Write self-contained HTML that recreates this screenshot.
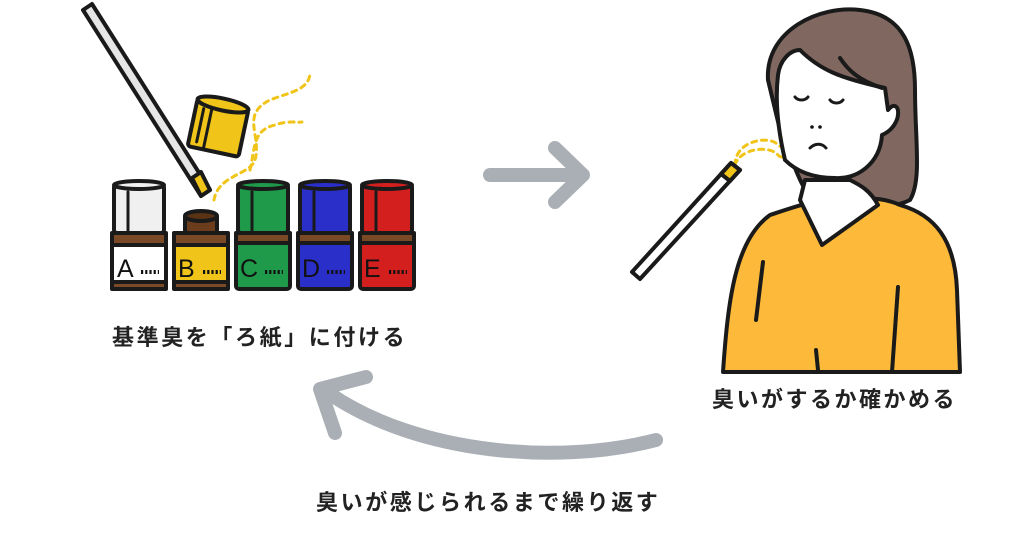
<!DOCTYPE html>
<html><head><meta charset="utf-8"><style>
html,body{margin:0;padding:0;background:#fff;}
svg{display:block}
text{font-family:"Liberation Sans","Noto Sans CJK JP",sans-serif;}
</style></head><body>
<svg width="1024" height="535" viewBox="0 0 1024 535" xmlns="http://www.w3.org/2000/svg">
<g stroke="#1a1a1a" stroke-width="4" stroke-linejoin="round" stroke-linecap="round">
<polygon points="83,10 92,4 210,190 201,196" fill="#e6e6e6"/>
<polygon points="192,178 201,172 210,190 201,196" fill="#f0c419"/>
<g transform="rotate(12 218 128)">
<rect x="192" y="104" width="52" height="48" rx="3" fill="#f0c419"/>
<ellipse cx="218" cy="104" rx="26" ry="6" fill="#f0c419"/>
<line x1="208" y1="110" x2="208" y2="150" stroke-width="3"/>
<line x1="200" y1="112" x2="200" y2="146" stroke-width="3"/>
</g>
<rect x="112" y="233" width="54" height="56" rx="3" fill="#fff"/>
<rect x="112" y="233" width="54" height="12" fill="#7a4a26"/>
<rect x="112" y="282" width="54" height="7" fill="#7a4a26"/>
<rect x="114" y="184" width="50" height="49" rx="3" fill="#f0f0f0"/>
<ellipse cx="139" cy="185" rx="25" ry="4" fill="#f0f0f0"/>
<line x1="128" y1="192" x2="128" y2="230" stroke-width="3"/>
<rect x="174" y="233" width="54" height="56" rx="3" fill="#f0c419"/>
<rect x="174" y="233" width="54" height="12" fill="#7a4a26"/>
<rect x="174" y="282" width="54" height="7" fill="#7a4a26"/>
<rect x="185" y="214" width="32" height="19" rx="3" fill="#6b3d1c"/>
<ellipse cx="201" cy="216" rx="16" ry="5" fill="#5a3214"/>
<rect x="236" y="233" width="54" height="56" rx="3" fill="#1f9a4a"/>
<rect x="236" y="233" width="54" height="10" fill="#7a4a26"/>
<rect x="238" y="184" width="50" height="49" rx="3" fill="#1f9a4a"/>
<ellipse cx="263" cy="185" rx="25" ry="4" fill="#1f9a4a"/>
<line x1="252" y1="192" x2="252" y2="230" stroke-width="3"/>
<rect x="298" y="233" width="54" height="56" rx="3" fill="#2b2fc9"/>
<rect x="298" y="233" width="54" height="10" fill="#7a4a26"/>
<rect x="300" y="184" width="50" height="49" rx="3" fill="#2b2fc9"/>
<ellipse cx="325" cy="185" rx="25" ry="4" fill="#2b2fc9"/>
<line x1="314" y1="192" x2="314" y2="230" stroke-width="3"/>
<rect x="360" y="233" width="54" height="56" rx="3" fill="#d41f1f"/>
<rect x="360" y="233" width="54" height="10" fill="#7a4a26"/>
<rect x="362" y="184" width="50" height="49" rx="3" fill="#d41f1f"/>
<ellipse cx="387" cy="185" rx="25" ry="4" fill="#d41f1f"/>
<line x1="376" y1="192" x2="376" y2="230" stroke-width="3"/>
</g>
<g font-size="25" fill="#111">
<text x="117" y="277">A</text><text x="178" y="277">B</text><text x="240" y="277">C</text><text x="302" y="277">D</text><text x="364" y="277">E</text>
</g>
<g stroke="#111" stroke-width="4" stroke-dasharray="2.2 2">
<line x1="141" y1="272" x2="159" y2="272"/><line x1="203" y1="272" x2="221" y2="272"/><line x1="265" y1="272" x2="283" y2="272"/><line x1="327" y1="272" x2="345" y2="272"/><line x1="389" y1="272" x2="407" y2="272"/>
</g>
<g fill="none" stroke="#f0c419" stroke-width="3" stroke-dasharray="5 5" stroke-linecap="round">
<path d="M214,200 C218,175 250,175 255,160 C262,135 240,115 270,100 C290,92 310,90 310,72"/>
<path d="M250,170 C255,150 252,130 275,125 C290,120 295,123 302,122"/>
<path d="M735,165 C735,140 770,135 778,145 C782,150 790,140 790,128"/>
<path d="M735,165 C740,148 770,145 778,155 C782,160 790,155 792,152"/>
</g>
<g stroke="#a9afb4" stroke-width="14" fill="none" stroke-linecap="round" stroke-linejoin="round">
<line x1="490" y1="175" x2="582" y2="175"/>
<polyline points="555,148 583,175 555,202"/>
<path d="M656,440 C560,465 420,455 330,394"/>
<polyline points="366,377 320,389 335,433"/>
</g>
<g stroke="#1a1a1a" stroke-width="4" stroke-linejoin="round" stroke-linecap="round">
<path d="M768,80 C765,30 820,5 860,10 C905,15 915,50 915,90 C915,140 922,180 910,200 C890,210 850,210 820,205 C800,195 790,150 780,130 Z" fill="#806860"/>
<path d="M723,372 C728,300 735,240 770,215 C800,205 820,198 840,200 C860,198 880,196 900,205 C935,215 955,240 957,290 L960,372 Z" fill="#fdb93a"/>
<path d="M800,200 L822,245 L878,205 C870,190 860,185 850,180 L805,180 Z" fill="#fff"/>
<path d="M778,75 C780,60 790,50 800,50 C820,70 840,78 885,88 L888,110 C900,95 905,125 882,135 C880,165 855,180 835,178 C820,178 800,175 785,160 C778,130 775,100 778,75 Z" fill="#fff"/>
<path d="M840,58 C848,70 858,80 882,88" fill="none"/>
<path d="M795,97 C798,101 805,101 808,97 M830,100 C833,104 840,104 843,100 M810,148 C815,143 822,143 826,148" fill="none" stroke-width="3"/>
<line x1="763" y1="262" x2="756" y2="320"/><line x1="898" y1="287" x2="892" y2="372"/><line x1="816" y1="350" x2="818" y2="370"/>
<polygon points="632,272 640,279 740,170 731,163" fill="#fff"/>
<polygon points="721,174 731,163 740,170 730,181" fill="#f0c419"/>
</g>
<circle cx="812" cy="127" r="1.8" fill="#111"/><circle cx="820" cy="127" r="1.8" fill="#111"/>
<g fill="#222" font-size="22" font-weight="bold">
<text x="112" y="345" letter-spacing="2.6">基準臭を「ろ紙」に付ける</text>
<text x="712" y="407" letter-spacing="2.5">臭いがするか確かめる</text>
<text x="316" y="510" letter-spacing="2.6">臭いが感じられるまで繰り返す</text>
</g>
</svg>
</body></html>
